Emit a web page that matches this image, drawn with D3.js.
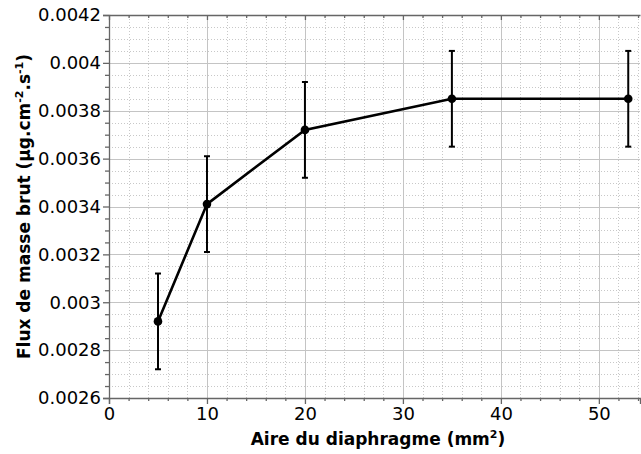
<!DOCTYPE html>
<html><head><meta charset="utf-8">
<script src="https://cdn.jsdelivr.net/npm/d3@7"></script>
<style>body{margin:0;background:#fff}svg{display:block}</style>
</head><body>
<script>
const areas = [5, 10, 20, 35, 53];
const flux = [0.00292, 0.00341, 0.00372, 0.00385, 0.00385];
const errors = [0.0002, 0.0002, 0.0002, 0.0002, 0.0002];
const xMajorTicks = [0, 10, 20, 30, 40, 50];
const yMajorTicks = [0.0026, 0.0028, 0.003, 0.0032, 0.0034, 0.0036, 0.0038, 0.004, 0.0042];
const yTickLabels = ["0.0026","0.0028","0.003","0.0032","0.0034","0.0036","0.0038","0.004","0.0042"];

const W = 641, H = 454;
const m = {left: 109, right: 1, top: 15, bottom: 56};
const svg = d3.select("body").append("svg").attr("width", W).attr("height", H);
const x = d3.scaleLinear().domain([0, 54.2]).range([m.left, W - m.right]);
const y = d3.scaleLinear().domain([0.0026, 0.0042]).range([H - m.bottom, m.top]);

const xMinor = d3.range(0, 54.2, 2);
const yMinor = d3.range(0, 33).map(i => 0.0026 + i * 0.00005);

const g = svg.append("g");
// minor grid
g.selectAll(".xm").data(xMinor).enter().append("line")
  .attr("x1", d => Math.round(x(d))+0.5).attr("x2", d => Math.round(x(d))+0.5).attr("y1", y.range()[0]).attr("y2", y.range()[1])
  .attr("stroke", "#c8c8c8").attr("stroke-width", 1).attr("stroke-dasharray", "1,2");
g.selectAll(".ym").data(yMinor).enter().append("line")
  .attr("y1", d => Math.round(y(d))+0.5).attr("y2", d => Math.round(y(d))+0.5).attr("x1", x.range()[0]).attr("x2", x.range()[1])
  .attr("stroke", "#c8c8c8").attr("stroke-width", 1).attr("stroke-dasharray", "1,2");
// major grid
g.selectAll(".xM").data(xMajorTicks).enter().append("line")
  .attr("x1", d => Math.round(x(d))+0.5).attr("x2", d => Math.round(x(d))+0.5).attr("y1", y.range()[0]).attr("y2", y.range()[1])
  .attr("stroke", "#c4c4c4").attr("stroke-width", 1);
g.selectAll(".yM").data(yMajorTicks).enter().append("line")
  .attr("y1", d => Math.round(y(d))+0.5).attr("y2", d => Math.round(y(d))+0.5).attr("x1", x.range()[0]).attr("x2", x.range()[1])
  .attr("stroke", "#c4c4c4").attr("stroke-width", 1);

// axes
const axisColor = "#666666";
svg.append("g").attr("transform", `translate(0,${H - m.bottom})`)
  .call(d3.axisBottom(x).tickValues(xMajorTicks).tickFormat(d3.format("d")).tickSize(6).tickPadding(3));
svg.append("g").attr("transform", `translate(0,${H - m.bottom})`)
  .call(d3.axisBottom(x).tickValues(xMinor.filter(d => d % 10 !== 0)).tickFormat("").tickSize(3))
  .call(s => s.select(".domain").remove());
svg.append("g").attr("transform", `translate(${m.left},0)`)
  .call(d3.axisLeft(y).tickValues(yMajorTicks).tickFormat((d, i) => yTickLabels[i]).tickSize(6).tickPadding(2));
svg.append("g").attr("transform", `translate(${m.left},0)`)
  .call(d3.axisLeft(y).tickValues(yMinor.filter((d, i) => i % 4 !== 0)).tickFormat("").tickSize(4))
  .call(s => s.select(".domain").remove());
// top border with inward ticks
svg.append("g").attr("transform", `translate(0,${m.top})`)
  .call(d3.axisBottom(x).tickValues(xMajorTicks).tickFormat("").tickSizeInner(5).tickSizeOuter(0));
svg.append("g").attr("transform", `translate(0,${m.top})`)
  .call(d3.axisBottom(x).tickValues(xMinor.filter(d => d % 10 !== 0)).tickFormat("").tickSize(3))
  .call(s => s.select(".domain").remove());

svg.selectAll(".domain, .tick line").attr("stroke", axisColor).attr("stroke-width", 1.3);
svg.selectAll(".tick text").attr("fill", "#000").style("font-family", "DejaVu Sans, Verdana, sans-serif").style("font-size", "18px");

// data line
const line = d3.line().x((d, i) => x(areas[i])).y(d => y(d));
svg.append("path").datum(flux).attr("d", line).attr("fill", "none").attr("stroke", "#000").attr("stroke-width", 2.6);

// error bars
const eb = svg.append("g").attr("stroke", "#000").attr("stroke-width", 2);
areas.forEach((a, i) => {
  const cx = x(a), top = y(flux[i] + errors[i]), bot = y(flux[i] - errors[i]);
  eb.append("line").attr("x1", cx).attr("x2", cx).attr("y1", top).attr("y2", bot);
  eb.append("line").attr("x1", cx - 3).attr("x2", cx + 3).attr("y1", top).attr("y2", top);
  eb.append("line").attr("x1", cx - 3).attr("x2", cx + 3).attr("y1", bot).attr("y2", bot);
});
svg.append("g").selectAll("circle").data(flux).enter().append("circle")
  .attr("cx", (d, i) => x(areas[i])).attr("cy", d => y(d)).attr("r", 4.3).attr("fill", "#000");

// axis titles
const xt = svg.append("text").attr("x", 378).attr("y", 445).attr("text-anchor", "middle")
  .style("font-family", "DejaVu Sans, Verdana, sans-serif").style("font-size", "17px").style("font-weight", "bold");
xt.append("tspan").text("Aire du diaphragme (mm");
xt.append("tspan").text("2").attr("dy", -7).style("font-size", "11px");
xt.append("tspan").text(")").attr("dy", 7);

const yt = svg.append("text").attr("transform", `translate(30,${(m.top + H - m.bottom) / 2}) rotate(-90)`).attr("text-anchor", "middle")
  .style("font-family", "DejaVu Sans, Verdana, sans-serif").style("font-size", "17px").style("font-weight", "bold");
yt.append("tspan").text("Flux de masse brut (µg.cm");
yt.append("tspan").text("-2").attr("dy", -7).style("font-size", "11px");
yt.append("tspan").text(".s").attr("dy", 7);
yt.append("tspan").text("-1").attr("dy", -7).style("font-size", "11px");
yt.append("tspan").text(")").attr("dy", 7);
</script>
</body></html>
